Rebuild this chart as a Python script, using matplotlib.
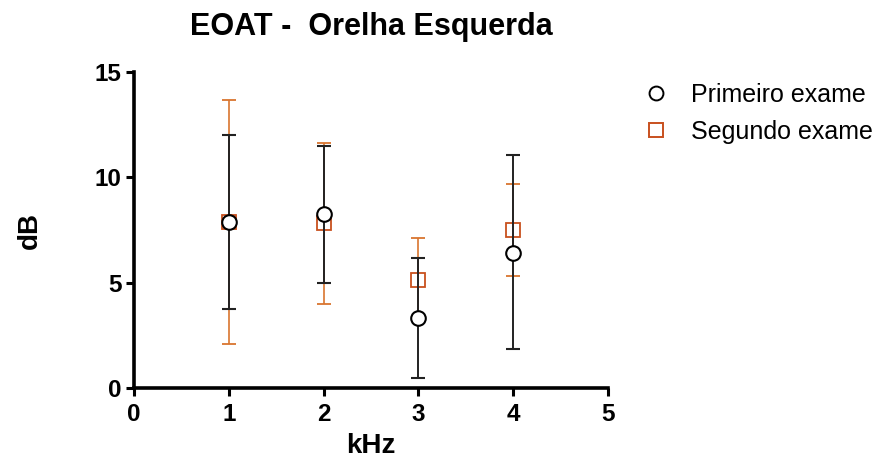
import matplotlib
matplotlib.use("Agg")
import matplotlib.pyplot as plt
from matplotlib.lines import Line2D

plt.rcParams['font.family'] = ['Liberation Sans', 'DejaVu Sans']

freqs = [1, 2, 3, 4]
primeiro_mean = [7.9, 8.25, 3.32, 6.42]
primeiro_low = [3.75, 4.98, 0.47, 1.85]
primeiro_high = [12.0, 11.5, 6.18, 11.06]
segundo_mean = [7.9, 7.82, 5.12, 7.5]
segundo_low = [2.1, 4.0, 3.3, 5.33]
segundo_high = [13.67, 11.62, 7.12, 9.67]

black = '#000000'
orange = '#C8501E'
orange_bar = '#D9752F'

fig = plt.figure(figsize=(8.79, 4.61), dpi=100)
ax = fig.add_axes([134/879, 1-388/461, (608-134)/879, (388-72)/461])

s_err = [[m - l for m, l in zip(segundo_mean, segundo_low)],
         [h - m for m, h in zip(segundo_mean, segundo_high)]]
p_err = [[m - l for m, l in zip(primeiro_mean, primeiro_low)],
         [h - m for m, h in zip(primeiro_mean, primeiro_high)]]

ax.errorbar(freqs, segundo_mean, yerr=s_err, fmt='s', ms=9.5, mfc='white',
            mec=orange, mew=1.3, ecolor=orange_bar, elinewidth=1.2, capsize=5,
            capthick=1.3, zorder=2)
ax.errorbar(freqs, primeiro_mean, yerr=p_err, fmt='o', ms=10.5, mfc='white',
            mec=black, mew=1.5, ecolor='#222222', elinewidth=1.4, capsize=5,
            capthick=1.4, zorder=3)

ax.set_xlim(0, 5)
ax.set_ylim(0, 15)
ax.set_xticks([0, 1, 2, 3, 4, 5])
ax.set_yticks([0, 5, 10, 15])
for side in ['top', 'right']:
    ax.spines[side].set_visible(False)
for side in ['left', 'bottom']:
    ax.spines[side].set_linewidth(2.6)
ax.tick_params(direction='out', length=6, width=2.2, labelsize=17.5, pad=3)
ax.tick_params(axis='x', pad=5)
for lbl in ax.get_xticklabels() + ax.get_yticklabels():
    lbl.set_fontweight('bold')

ax.set_xlabel('kHz', fontsize=20, fontweight='bold', labelpad=5)
ax.set_ylabel('dB', fontsize=20, fontweight='bold', labelpad=37)
fig.text(371/879, 1-27/461, 'EOAT -  Orelha Esquerda', ha='center', va='center',
         fontsize=22, fontweight='bold')

handles = [Line2D([], [], ls='none', marker='o', ms=10, mfc='white', mec=black, mew=1.4),
           Line2D([], [], ls='none', marker='s', ms=10, mfc='white', mec=orange, mew=1.4)]
fig.legend(handles, ['Primeiro exame', 'Segundo exame'], loc='upper left',
           bbox_to_anchor=(634/879, 1-73/461), frameon=False, fontsize=18,
           handletextpad=0.9, labelspacing=0.5, handlelength=1.0, borderaxespad=0)

fig.savefig('out.png', dpi=100)
